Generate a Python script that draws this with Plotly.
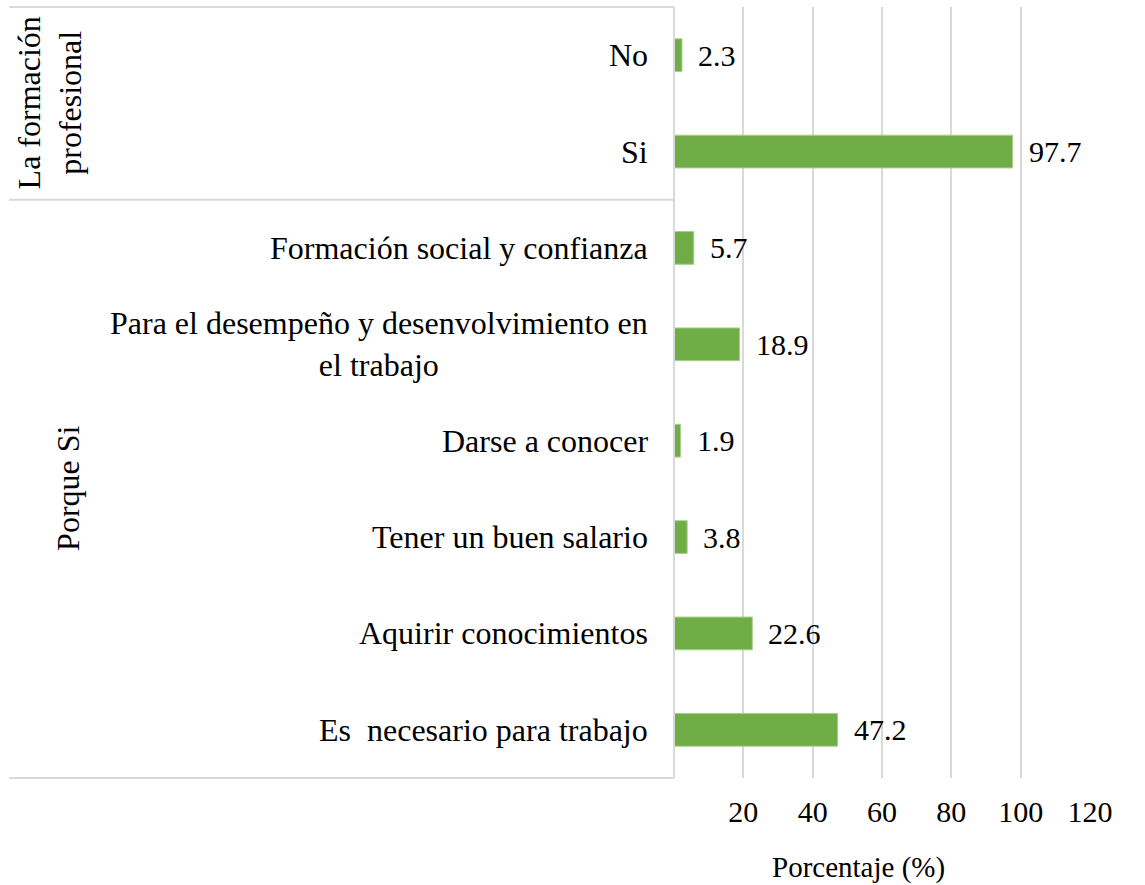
import plotly.graph_objects as go

# Survey responses (%)
categories = [
    "No",
    "Si",
    "Formación social y confianza",
    "Para el desempeño y desenvolvimiento en<br>el trabajo",
    "Darse a conocer",
    "Tener un buen salario",
    "Aquirir conocimientos",
    "Es  necesario para trabajo",
]
values = [2.3, 97.7, 5.7, 18.9, 1.9, 3.8, 22.6, 47.2]
value_labels = ["2.3", "97.7", "5.7", "18.9", "1.9", "3.8", "22.6", "47.2"]

groups = ["La formación<br>profesional", "Porque Si"]
group_sizes = [2, 6]

x_ticks = [20, 40, 60, 80, 100, 120]
x_title = "Porcentaje (%)"

W, H = 1145, 885
ML, MR, MT, MB = 674, 55, 7, 107
PW = W - ML - MR
PH = H - MT - MB
FONT = "Liberation Serif, Tinos, Times, serif"
GRID = "#d9d9d9"
BAR = "#70AD47"
FS_TEXT = 32
FS_NUM = 30
FS_TITLE = 29

fig = go.Figure()
fig.add_trace(go.Bar(
    x=values,
    y=categories,
    orientation="h",
    marker=dict(color=BAR, line=dict(color="#a9d18e", width=1)),
    width=0.34,
    hoverinfo="skip",
))

annotations = []
# value labels to the right of each bar
for c, v, t in zip(categories, values, value_labels):
    annotations.append(dict(
        x=v, y=c, xref="x", yref="y", text=t, showarrow=False,
        xanchor="left", yanchor="middle", xshift=14,
        font=dict(family=FONT, size=FS_NUM, color="black"),
    ))
# category labels
for c in categories:
    annotations.append(dict(
        x=0, y=c, xref="paper", yref="y", text=c, showarrow=False,
        xanchor="right", yanchor="middle", xshift=-24, align="center",
        font=dict(family=FONT, size=FS_TEXT, color="black"),
    ))

# group labels and separators
left_px = 9
x_left = (left_px - ML) / PW
n = len(categories)
shapes = []
start = 0
group_x_px = [50, 68]
for g, size, gx in zip(groups, group_sizes, group_x_px):
    top = 1 - start / n
    bottom = 1 - (start + size) / n
    annotations.append(dict(
        x=(gx - ML) / PW, y=(top + bottom) / 2, xref="paper", yref="paper",
        text=g, showarrow=False, textangle=-90, align="center",
        xanchor="center", yanchor="middle",
        font=dict(family=FONT, size=FS_TEXT, color="black"),
    ))
    start += size

boundaries = [0]
for size in group_sizes:
    boundaries.append(boundaries[-1] + size)
for b in boundaries:
    yb = 1 - b / n
    shapes.append(dict(
        type="line", xref="paper", yref="paper",
        x0=x_left, x1=0, y0=yb, y1=yb,
        line=dict(color=GRID, width=2),
    ))
# category axis line
shapes.append(dict(
    type="line", xref="paper", yref="paper",
    x0=0, x1=0, y0=0, y1=1, line=dict(color=GRID, width=2),
))

annotations.append(dict(
    x=(858 - ML) / PW, y=-(867 - MT - PH) / PH, xref="paper", yref="paper",
    text=x_title, showarrow=False, xanchor="center", yanchor="middle",
    font=dict(family=FONT, size=FS_TITLE, color="black"),
))

fig.update_layout(
    width=W, height=H,
    margin=dict(l=ML, r=MR, t=MT, b=MB, pad=0),
    paper_bgcolor="white", plot_bgcolor="white",
    showlegend=False,
    font=dict(family=FONT),
    annotations=annotations,
    shapes=shapes,
    xaxis=dict(
        range=[0, 120], tickvals=x_ticks, ticktext=[str(t) for t in x_ticks],
        showgrid=True, gridcolor=GRID, gridwidth=2, zeroline=False,
        showline=False, ticks="", ticklabelstandoff=13,
        tickfont=dict(family=FONT, size=FS_NUM, color="black"),
    ),
    yaxis=dict(
        autorange="reversed", showticklabels=False, showgrid=False,
        zeroline=False, showline=False, ticks="",
    ),
)

fig.write_html("out.html")
